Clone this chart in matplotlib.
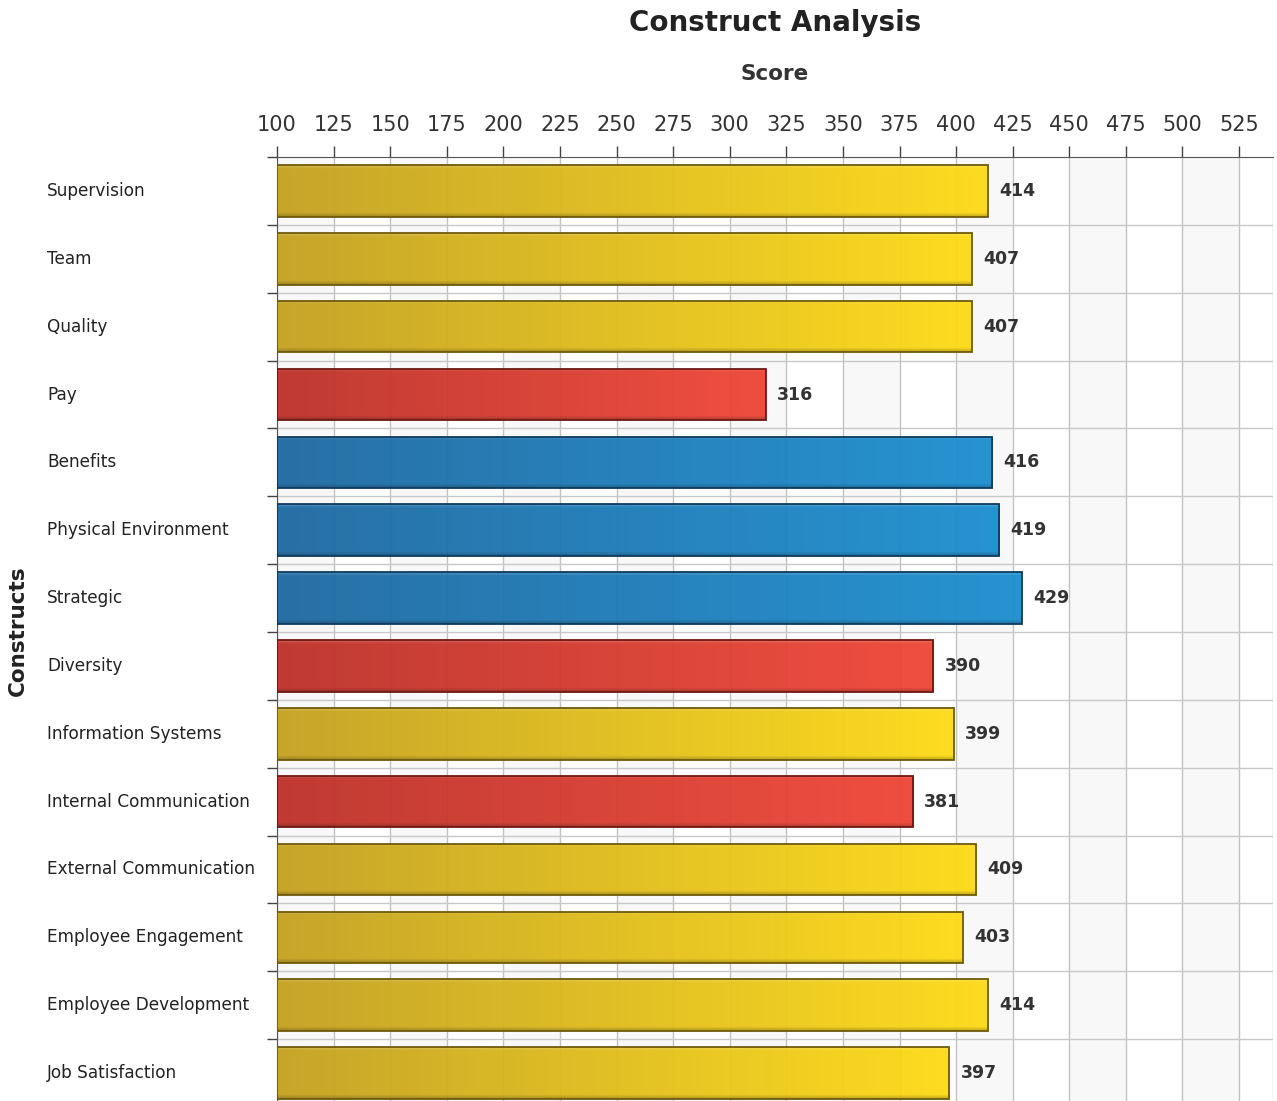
import numpy as np
import matplotlib
matplotlib.use("Agg")
import matplotlib.pyplot as plt
from matplotlib.colors import to_rgb
from matplotlib.transforms import blended_transform_factory

# Construct scores
constructs = [
    "Supervision", "Team", "Quality", "Pay", "Benefits",
    "Physical Environment", "Strategic", "Diversity", "Information Systems",
    "Internal Communication", "External Communication", "Employee Engagement",
    "Employee Development", "Job Satisfaction",
]
scores = [414, 407, 407, 316, 416, 419, 429, 390, 399, 381, 409, 403, 414, 397]
groups = ["gold", "gold", "gold", "red", "blue", "blue", "blue", "red",
          "gold", "red", "gold", "gold", "gold", "gold"]
score_ticks = [100, 125, 150, 175, 200, 225, 250, 275, 300, 325, 350,
               375, 400, 425, 450, 475, 500, 525]

# (left colour, right colour, outline colour) for each group
palette = {
    "gold": ("#C4A11F", "#FDDA14", "#6E5A0C"),
    "red": ("#BD3028", "#EF4535", "#6E1812"),
    "blue": ("#1D69A2", "#1A8ECF", "#0E3A5C"),
}

base = 100
x_max = 540

fig = plt.figure(figsize=(12.77, 11.01), dpi=100)
ax = fig.add_axes([277 / 1277, -6 / 1101, 996 / 1277, 950 / 1101])

n = len(constructs)
ypos = np.arange(n)

# alternating column bands
for i, x0 in enumerate(range(base, x_max, 25)):
    if i % 2 == 0:
        ax.axvspan(x0, min(x0 + 25, x_max), color="#F8F8F8", lw=0, zorder=0)

# grid lines
for xv in score_ticks:
    ax.axvline(xv, color="#C2C2C2", lw=1, zorder=1)
ax.axvline(x_max, color="#C8C8C8", lw=1, zorder=1)
for k in range(1, n + 1):
    ax.axhline(k - 0.5, color="#C8C8C8", lw=1, zorder=1)

# bars with horizontal gradient fill
rects = ax.barh(ypos, np.array(scores) - base, left=base, height=0.76,
                facecolor="none", lw=0, zorder=3)
ncols = 256
t = np.linspace(0, 1, ncols)
nrows = 64
v = np.linspace(0, 1, nrows)
for rect, grp in zip(rects, groups):
    c0 = np.array(to_rgb(palette[grp][0]))
    c1 = np.array(to_rgb(palette[grp][1]))
    row = c0[None, :] * (1 - t[:, None]) + c1[None, :] * t[:, None]
    img = np.repeat(row[None, :, :], nrows, axis=0)
    # thin highlight along the top, slight shade along the bottom
    hl = np.clip(1 - v / 0.06, 0, 1)[:, None, None] * 0.2
    sh = np.clip((v - 0.92) / 0.08, 0, 1)[:, None, None] * 0.25
    img = img * (1 - hl) + hl
    img = img * (1 - sh)
    x0, y0 = rect.get_x(), rect.get_y()
    w, h = rect.get_width(), rect.get_height()
    im = ax.imshow(img, extent=[x0, x0 + w, y0 + h, y0], aspect="auto",
                   interpolation="bilinear", zorder=3, alpha=0.95)
    im.set_clip_path(rect)
    outline = plt.Rectangle((x0, y0), w, h, fill=False,
                            edgecolor=palette[grp][2], lw=1.3, zorder=4)
    ax.add_patch(outline)

# value labels
for yi, s in zip(ypos, scores):
    ax.annotate(str(s), (s, yi), xytext=(8, 0), textcoords="offset points",
                va="center", ha="left", fontsize=12.5, fontweight="bold",
                color="#333333", zorder=5)

ax.set_xlim(base, x_max)
ax.set_ylim(n - 0.5, -0.5)

# axes decoration
ax.xaxis.tick_top()
ax.set_xticks(score_ticks)
ax.set_xticklabels([str(v_) for v_ in score_ticks])
ax.tick_params(axis="x", direction="out", length=8, width=1, color="#444444",
               labelsize=15, labelcolor="#333333", pad=8)
ax.set_yticks(np.arange(-0.5, n, 1))
ax.set_yticklabels([])
ax.tick_params(axis="y", direction="out", length=7, width=1, color="#444444")

for side in ["bottom", "right"]:
    ax.spines[side].set_visible(False)
ax.spines["top"].set_color("#555555")
ax.spines["left"].set_color("#555555")

# category labels, left aligned in the margin
trans = blended_transform_factory(fig.transFigure, ax.transData)
for yi, name in zip(ypos, constructs):
    ax.text(47 / 1277, yi, name, transform=trans, ha="left", va="center",
            fontsize=12.2, color="#222222", clip_on=False)

cx = 0.5 * (277 + 1273) / 1277
fig.text(cx, 1 - 23 / 1101, "Construct Analysis",
         ha="center", va="center", fontsize=20, fontweight="bold",
         color="#222222")
fig.text(cx, 1 - 74 / 1101, "Score",
         ha="center", va="center", fontsize=15.5, fontweight="bold",
         color="#333333")
fig.text(18 / 1277, 1 - 631 / 1101, "Constructs", rotation=90,
         ha="center", va="center", fontsize=15.5, fontweight="bold",
         color="#222222")

fig.savefig("out.png", dpi=100)
